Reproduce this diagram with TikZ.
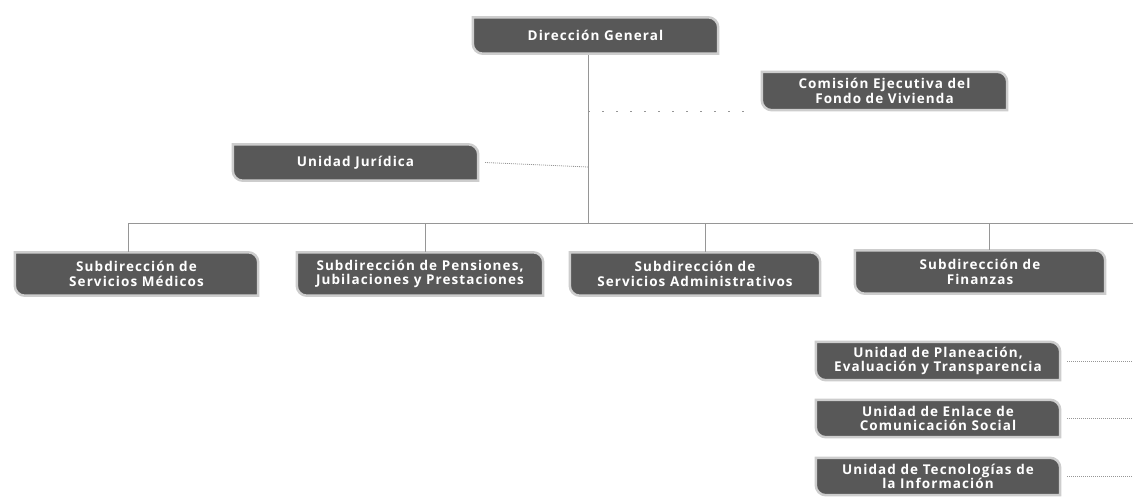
\documentclass[tikz,border=0pt]{standalone}
\usepackage{fontspec}
\setmainfont[LetterSpace=8]{Open Sans}
\usetikzlibrary{backgrounds}
\definecolor{boxfill}{RGB}{88,88,88}
\definecolor{halo}{RGB}{205,205,205}
\definecolor{linecol}{RGB}{150,150,150}
\tikzset{
  x=1pt, y=-1pt,
  orgbox/.style={minimum width=#1, minimum height=36pt, inner sep=0pt, align=center,
    text=white, font=\bfseries\fontsize{13.5}{14.5}\selectfont},
  orgbox/.default=245pt,
  leafshape/.style={fill=boxfill, draw=halo, line width=2.5pt},
  solidline/.style={draw=linecol, line width=0.9pt},
  fineline/.style={draw=linecol, line width=0.8pt, dash pattern=on 1pt off 1pt},
  sparsedots/.style={draw=linecol, line width=1pt, dash pattern=on 1.5pt off 12.5pt},
}
\begin{document}
\begin{tikzpicture}
\useasboundingbox (0,0) rectangle (1133,496);
% nodes
\node[orgbox] (dg)  at (595.5,35.5) {Dirección General};
\node[orgbox, minimum height=38pt] (com) at (884.5,91) {Comisión Ejecutiva del\\Fondo de Vivienda};
\node[orgbox] (jur) at (355.5,162.5) {Unidad Jurídica};
\node[orgbox=243pt, minimum height=43pt] (s1) at (136.5,274) {Subdirección de\\Servicios Médicos};
\node[orgbox=246pt, minimum height=43pt] (s2) at (420,274) {Subdirección de Pensiones,\\Jubilaciones y Prestaciones};
\node[orgbox=250pt, minimum height=43pt] (s3) at (695,274) {Subdirección de\\Servicios Administrativos};
\node[orgbox=250pt, minimum height=43pt] (s4) at (980,272) {Subdirección de\\Finanzas};
\node[orgbox=244pt, minimum height=38pt] (u1) at (938,361) {Unidad de Planeación,\\Evaluación y Transparencia};
\node[orgbox=244pt, minimum height=37pt] (u2) at (938,418.5) {Unidad de Enlace de\\Comunicación Social};
\node[orgbox=244pt, minimum height=37pt] (u3) at (938,476.5) {Unidad de Tecnologías de\\la Información};
% bus coordinates
\coordinate (hub) at (588,223);
\coordinate (busL) at (128,223);
\coordinate (busR) at (1133,223);
\coordinate (b1) at (128,223);
\coordinate (b2) at (425,223);
\coordinate (b3) at (705,223);
\coordinate (b4) at (989,223);
\coordinate (comL) at (588,111);
\coordinate (jurR) at (588,167);
\coordinate (rEdge) at (1133,0);
\begin{scope}[on background layer]
  \foreach \n in {dg,com,jur,s1,s2,s3,s4,u1,u2,u3}{
    \path[leafshape] (\n.north west) -- ([xshift=-10pt]\n.north east)
      arc[start angle=90, end angle=0, radius=10pt] -- (\n.south east)
      -- ([xshift=10pt]\n.south west) arc[start angle=270, end angle=180, radius=10pt] -- cycle;
  }
\end{scope}
% connectors
\draw[solidline] ([xshift=-7.5pt,yshift=-1.5pt]dg.south) -- (hub);
\draw[solidline] (busL) -- (busR);
\draw[solidline] (b1) -- (b1 |- s1.north);
\draw[solidline] (b2) -- (b2 |- s2.north);
\draw[solidline] (b3) -- (b3 |- s3.north);
\draw[solidline] (b4) -- (b4 |- s4.north);
\draw[sparsedots] (comL) -- ([xshift=-7pt]com.west |- comL);
\draw[fineline] ([xshift=7pt]jur.east) -- (jurR);
\draw[fineline] ([xshift=7pt]u1.east) -- (u1.east -| rEdge);
\draw[fineline] ([xshift=7pt]u2.east) -- (u2.east -| rEdge);
\draw[fineline] ([xshift=7pt]u3.east) -- (u3.east -| rEdge);
\end{tikzpicture}
\end{document}
